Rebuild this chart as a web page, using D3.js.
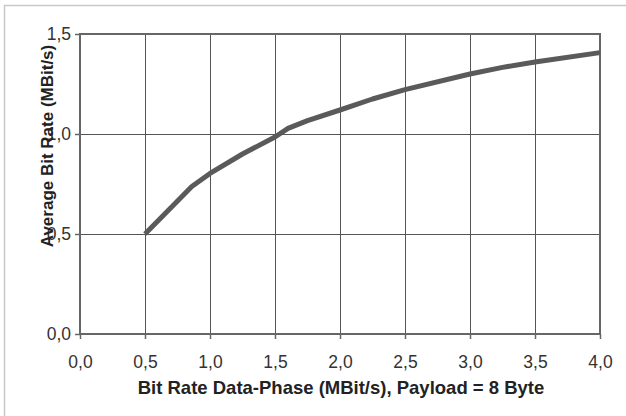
<!DOCTYPE html>
<html>
<head>
<meta charset="utf-8">
<script src="https://cdn.jsdelivr.net/npm/d3@7"></script>
<style>
    body { margin: 0; background: #fff; }
    .tickLabel { font-family: "Liberation Sans", Arial, sans-serif; font-size: 17.5px; fill: #333; }
    .axisTitle { font-family: "Liberation Sans", Arial, sans-serif; font-weight: bold; fill: #222; }
</style>
</head>
<body>
<script>
//wrap everything in a self-executing anonymous function
(function(){

//bit rate of the data phase (MBit/s)
var bitRates = [0.5, 0.86, 1.0, 1.25, 1.5, 1.6, 1.75, 2.0, 2.25, 2.5, 3.0, 3.25, 3.5, 4.0];
//resulting average bit rate (MBit/s)
var avgRates = [0.5, 0.737, 0.803, 0.9, 0.985, 1.028, 1.067, 1.12, 1.175, 1.222, 1.30, 1.333, 1.36, 1.407];
//tick values
var xTicks = [0, 0.5, 1.0, 1.5, 2.0, 2.5, 3.0, 3.5, 4.0];
var yTicks = [0, 0.5, 1.0, 1.5];

var width = 626,
    height = 416,
    left = 80, right = 600, top = 34, bottom = 334;

var svg = d3.select("body")
    .append("svg")
    .attr("width", width)
    .attr("height", height);

//light outer frame
svg.append("rect")
    .attr("x", 4.5)
    .attr("y", 5.5)
    .attr("width", 700)
    .attr("height", 500)
    .attr("fill", "none")
    .attr("stroke", "#c8c8c8")
    .attr("stroke-width", 1.5);

var x = d3.scaleLinear().domain([0, 4]).range([left, right]);
var y = d3.scaleLinear().domain([0, 1.5]).range([bottom, top]);

var fmt = function(d){ return d3.format(".1f")(d).replace(".", ","); };

//vertical gridlines
svg.selectAll(".vGrid")
    .data(xTicks.slice(1, -1))
    .enter()
    .append("line")
    .attr("class", "vGrid")
    .attr("x1", function(d){ return Math.round(x(d)) + 0.5; })
    .attr("x2", function(d){ return Math.round(x(d)) + 0.5; })
    .attr("y1", top)
    .attr("y2", bottom)
    .attr("stroke", "#555")
    .attr("stroke-width", 1);

//horizontal gridlines
svg.selectAll(".hGrid")
    .data(yTicks.slice(1, -1))
    .enter()
    .append("line")
    .attr("class", "hGrid")
    .attr("x1", left)
    .attr("x2", right)
    .attr("y1", function(d){ return Math.round(y(d)) + 0.5; })
    .attr("y2", function(d){ return Math.round(y(d)) + 0.5; })
    .attr("stroke", "#555")
    .attr("stroke-width", 1);

//plot border
svg.append("rect")
    .attr("x", left)
    .attr("y", top)
    .attr("width", right - left)
    .attr("height", bottom - top)
    .attr("fill", "none")
    .attr("stroke", "#666")
    .attr("stroke-width", 2);

//x axis ticks
var xAxis = d3.axisBottom(x)
    .tickValues(xTicks)
    .tickSize(5)
    .tickPadding(17)
    .tickFormat(fmt);
var gx = svg.append("g")
    .attr("transform", "translate(0," + bottom + ")")
    .call(xAxis);
gx.select(".domain").remove();
gx.selectAll(".tick line").attr("stroke", "#666").attr("stroke-width", 1.5);
gx.selectAll(".tick text").attr("class", "tickLabel").attr("font-family", null).attr("font-size", null).attr("fill", null);

//y axis ticks
var yAxis = d3.axisLeft(y)
    .tickValues(yTicks)
    .tickSize(5)
    .tickPadding(4)
    .tickFormat(fmt);
var gy = svg.append("g")
    .attr("transform", "translate(" + left + ",0)")
    .call(yAxis);
gy.select(".domain").remove();
gy.selectAll(".tick line").attr("stroke", "#666").attr("stroke-width", 1.5);
gy.selectAll(".tick text").attr("class", "tickLabel").attr("font-family", null).attr("font-size", null).attr("fill", null);

//data line
var line = d3.line()
    .x(function(d, i){ return x(bitRates[i]); })
    .y(function(d){ return y(d); });

svg.append("path")
    .datum(avgRates)
    .attr("d", line)
    .attr("fill", "none")
    .attr("stroke", "#5a5a5a")
    .attr("stroke-width", 5)
    .attr("stroke-linejoin", "round");

//axis titles
svg.append("text")
    .attr("class", "axisTitle")
    .attr("x", (left + right) / 2 + 1)
    .attr("y", 394)
    .attr("font-size", "18.5px")
    .attr("text-anchor", "middle")
    .text("Bit Rate Data-Phase (MBit/s), Payload = 8 Byte");

svg.append("text")
    .attr("class", "axisTitle")
    .attr("transform", "translate(53,146) rotate(-90)")
    .attr("font-size", "17px")
    .attr("text-anchor", "middle")
    .text("Average Bit Rate (MBit/s)");

})();
</script>
</body>
</html>
